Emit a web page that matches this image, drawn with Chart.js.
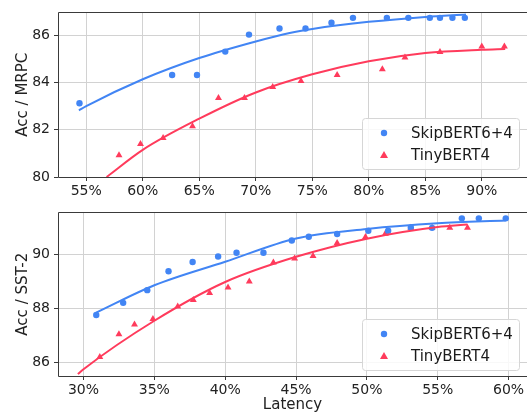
<!DOCTYPE html>
<html>
<head>
<meta charset="utf-8">
<script src="https://cdn.jsdelivr.net/npm/chart.js@4/dist/chart.umd.min.js"></script>
<style>
    body { margin: 0; background: #fff; overflow: hidden; }
    #top-wrap { position: absolute; left: 0; top: 0; }
    #bottom-wrap { position: absolute; left: 0; top: 200px; }
</style>
</head>
<body>
<div id="top-wrap"><canvas id="mrpc-chart" width="527" height="200"></canvas></div>
<div id="bottom-wrap"><canvas id="sst-chart" width="527" height="215"></canvas></div>
<script>
// MRPC (top panel)
const mrpcSkipX = [54.4, 62.6, 64.8, 67.3, 69.4, 72.1, 74.4, 76.7, 78.6, 81.6, 83.5, 85.4, 86.3, 87.4, 88.5];
const mrpcSkipY = [83.12, 84.32, 84.32, 85.31, 86.03, 86.29, 86.29, 86.53, 86.74, 86.74, 86.74, 86.74, 86.74, 86.74, 86.74];
const mrpcTinyX = [57.9, 59.8, 61.8, 64.4, 66.7, 69.0, 71.5, 74.0, 77.2, 81.2, 83.2, 86.3, 90.0, 92.0];
const mrpcTinyY = [80.92, 81.40, 81.65, 82.15, 83.35, 83.35, 83.81, 84.06, 84.32, 84.56, 85.06, 85.29, 85.53, 85.53];
// fitted curves
const mrpcSkipFitX = [54.35, 55, 60, 65, 70, 73, 75, 80, 85, 88.6];
const mrpcSkipFitY = [82.82, 83.0, 84.14, 85.04, 85.74, 86.1, 86.27, 86.57, 86.78, 86.88];
const mrpcTinyFitX = [56.8, 60, 65, 70, 75, 80, 85, 90, 92.07];
const mrpcTinyFitY = [80.0, 81.15, 82.47, 83.58, 84.35, 84.9, 85.25, 85.39, 85.42];

// SST-2 (bottom panel)
const sstSkipX = [30.9, 32.8, 34.5, 36.0, 37.7, 39.5, 40.8, 42.7, 44.7, 45.9, 47.9, 50.1, 51.5, 53.1, 54.6, 56.7, 57.9, 59.8];
const sstSkipY = [87.75, 88.2, 88.67, 89.37, 89.71, 89.91, 90.05, 90.05, 90.5, 90.64, 90.74, 90.86, 90.86, 90.98, 90.97, 91.32, 91.32, 91.32];
const sstTinyX = [31.15, 32.5, 33.6, 34.9, 36.65, 37.75, 38.9, 40.2, 41.7, 43.4, 44.9, 46.2, 47.9, 49.9, 51.3, 53.1, 54.6, 55.85, 57.1];
const sstTinyY = [86.2, 87.04, 87.4, 87.6, 88.07, 88.31, 88.56, 88.77, 88.99, 89.69, 89.84, 89.93, 90.41, 90.63, 90.75, 90.97, 90.97, 90.97, 90.97];
const sstSkipFitX = [30.9, 35, 40, 45, 50, 55, 59.8];
const sstSkipFitY = [87.84, 88.85, 89.72, 90.58, 90.93, 91.14, 91.24];
const sstTinyFitX = [29.6, 30, 35, 40, 45, 50, 55, 57.1];
const sstTinyFitY = [85.57, 85.75, 87.54, 88.97, 89.9, 90.57, 91.0, 91.09];

const seriesLabels = ['SkipBERT6+4', 'TinyBERT4'];
const blue = '#4285F4';
const red = '#FF3B5C';
const font = 'DejaVu Sans';

function pts(xs, ys) {
    return xs.map((x, i) => ({ x: x, y: ys[i] }));
}

// spines round the plot area (the right one falls off the picture)
const framePlugin = {
    id: 'frame',
    afterDatasetsDraw(chart) {
        const { ctx, chartArea: a } = chart;
        const l = Math.round(a.left) + 0.5, t = Math.round(a.top) + 0.5, b = Math.round(a.bottom) + 0.5;
        ctx.save();
        ctx.strokeStyle = '#3a3a3a';
        ctx.lineWidth = 1;
        ctx.beginPath();
        ctx.moveTo(chart.width + 2, t);
        ctx.lineTo(l, t);
        ctx.lineTo(l, b);
        ctx.lineTo(chart.width + 2, b);
        ctx.stroke();
        ctx.restore();
    }
};

// legend inside the plot, lower right, with a rounded box
const boxLegendPlugin = {
    id: 'boxLegend',
    afterDraw(chart, args, opts) {
        const { ctx, chartArea: a } = chart;
        const w = 157, h = 51;
        const x = a.right - 8 - w;
        const y = a.bottom - opts.gap - h;
        ctx.save();
        ctx.beginPath();
        ctx.roundRect(x + 0.5, y + 0.5, w, h, 3);
        ctx.fillStyle = 'rgba(255,255,255,0.85)';
        ctx.fill();
        ctx.strokeStyle = '#d6d6d6';
        ctx.lineWidth = 1;
        ctx.stroke();

        const rows = [
            { label: seriesLabels[0], color: blue, style: 'circle' },
            { label: seriesLabels[1], color: red, style: 'triangle' }
        ];
        rows.forEach((r, i) => {
            const cy = y + 15 + i * 22;
            ctx.fillStyle = r.color;
            ctx.beginPath();
            if (r.style === 'circle') {
                ctx.arc(x + 22, cy, 3.2, 0, Math.PI * 2);
            } else {
                ctx.moveTo(x + 22, cy - 4);
                ctx.lineTo(x + 26, cy + 3);
                ctx.lineTo(x + 18, cy + 3);
                ctx.closePath();
            }
            ctx.fill();
            ctx.fillStyle = '#1a1a1a';
            ctx.font = '15px "' + font + '"';
            ctx.textBaseline = 'middle';
            ctx.fillText(r.label, x + 49, cy + 1);
        });
        ctx.restore();
    }
};

function makeChart(id, cfg) {
    const ctx = document.getElementById(id);
    return new Chart(ctx, {
        type: 'scatter',
        data: {
            datasets: [
                {
                    label: seriesLabels[0] + ' fit',
                    data: pts(cfg.skipFitX, cfg.skipFitY),
                    showLine: true,
                    borderColor: blue,
                    borderWidth: 2,
                    pointRadius: 0,
                    cubicInterpolationMode: 'monotone'
                },
                {
                    label: seriesLabels[1] + ' fit',
                    data: pts(cfg.tinyFitX, cfg.tinyFitY),
                    showLine: true,
                    borderColor: red,
                    borderWidth: 2,
                    pointRadius: 0,
                    cubicInterpolationMode: 'monotone'
                },
                {
                    label: seriesLabels[0],
                    data: pts(cfg.skipX, cfg.skipY),
                    backgroundColor: blue,
                    borderColor: blue,
                    borderWidth: 0,
                    pointStyle: 'circle',
                    pointRadius: 3.2
                },
                {
                    label: seriesLabels[1],
                    data: pts(cfg.tinyX, cfg.tinyY),
                    backgroundColor: red,
                    borderColor: red,
                    borderWidth: 0,
                    pointStyle: 'triangle',
                    pointRadius: 4
                }
            ]
        },
        options: {
            responsive: false,
            animation: false,
            layout: { autoPadding: false, padding: { top: 10, right: 0, left: 0, bottom: 0 } },
            plugins: {
                legend: { display: false },
                tooltip: { enabled: false },
                boxLegend: { gap: cfg.legendGap }
            },
            scales: {
                x: {
                    type: 'linear',
                    min: cfg.xMin,
                    max: cfg.xMax,
                    afterFit: s => { s.height = cfg.xHeight; },
                    border: { display: false },
                    grid: { color: '#d2d2d2', tickColor: '#3a3a3a', tickLength: 4 },
                    ticks: {
                        stepSize: 5,
                        includeBounds: false,
                        padding: 2,
                        color: '#222',
                        font: { family: font, size: 14 },
                        callback: v => v + '%'
                    },
                    title: {
                        display: !!cfg.xTitle,
                        text: cfg.xTitle || '',
                        color: '#222',
                        font: { family: font, size: 15 },
                        padding: { top: 0, bottom: 1 }
                    }
                },
                y: {
                    min: cfg.yMin,
                    max: cfg.yMax,
                    afterFit: s => { s.width = 58; },
                    border: { display: false },
                    grid: { color: '#d2d2d2', tickColor: '#3a3a3a', tickLength: 4 },
                    ticks: {
                        stepSize: 2,
                        includeBounds: false,
                        padding: 4,
                        color: '#222',
                        font: { family: font, size: 14 }
                    },
                    title: {
                        display: true,
                        text: cfg.yTitle,
                        color: '#222',
                        font: { family: font, size: 15 },
                        padding: { top: 14, bottom: 0 }
                    }
                }
            }
        },
        plugins: [framePlugin, boxLegendPlugin]
    });
}

makeChart('mrpc-chart', {
    skipX: mrpcSkipX, skipY: mrpcSkipY, tinyX: mrpcTinyX, tinyY: mrpcTinyY,
    skipFitX: mrpcSkipFitX, skipFitY: mrpcSkipFitY, tinyFitX: mrpcTinyFitX, tinyFitY: mrpcTinyFitY,
    xMin: 52.5, xMax: 94.0, yMin: 80, yMax: 86.97,
    xHeight: 23, legendGap: 8, yTitle: 'Acc / MRPC'
});

makeChart('sst-chart', {
    skipX: sstSkipX, skipY: sstSkipY, tinyX: sstTinyX, tinyY: sstTinyY,
    skipFitX: sstSkipFitX, skipFitY: sstSkipFitY, tinyFitX: sstTinyFitX, tinyFitY: sstTinyFitY,
    xMin: 28.2, xMax: 61.3, yMin: 85.5, yMax: 91.54,
    xHeight: 39, legendGap: 6, yTitle: 'Acc / SST-2', xTitle: 'Latency'
});
</script>
</body>
</html>
